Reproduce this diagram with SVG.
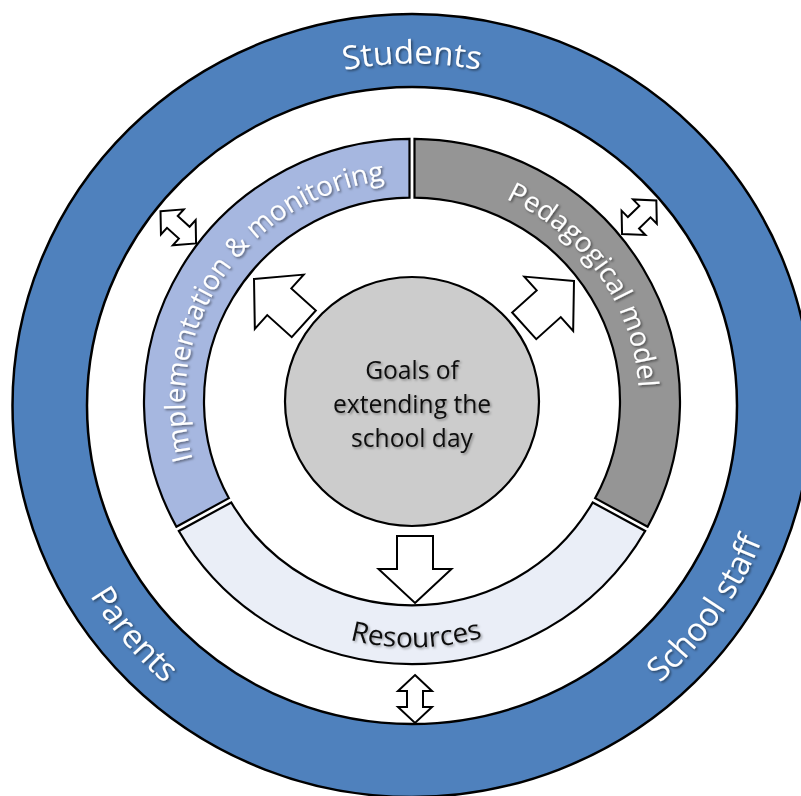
<svg xmlns="http://www.w3.org/2000/svg" width="801" height="796" viewBox="0 0 801 796">
<defs>
<style>
.ring{stroke:#000;stroke-width:2.5}
.seg{stroke:#000;stroke-width:2.2}
.arr{fill:#fff;stroke:#000;stroke-width:2;stroke-linejoin:miter}
.lbl{font-family:"Open Sans","Liberation Sans",sans-serif}
.w{fill:#fff;filter:url(#shd)}
.k{fill:#111;filter:url(#shl)}
.ctr{font-size:24.6px;text-anchor:middle}
</style>
<filter id="shd" x="-20%" y="-20%" width="140%" height="140%">
<feDropShadow dx="1.5" dy="1.5" stdDeviation="1.2" flood-color="#000" flood-opacity="0.5"/>
</filter>
<filter id="shl" x="-20%" y="-20%" width="140%" height="140%">
<feDropShadow dx="1.5" dy="1.5" stdDeviation="1.2" flood-color="#000" flood-opacity="0.35"/>
</filter>
<path id="p-students" d="M -343.70 -60.60 A 349 349 0 0 1 343.70 -60.60"/>
<path id="p-parents" d="M -288.03 -241.69 A 376 376 0 0 0 188 325.63"/>
<path id="p-staff" d="M -160.09 340.22 A 376 376 0 0 0 266.80 -264.94"/>
<path id="p-impl" d="M -157.69 163.29 A 227 227 0 0 1 92.33 -207.38"/>
<path id="p-ped" d="M -94.50 -206.40 A 227 227 0 0 1 159.39 161.63"/>
<path id="p-res" d="M -246.39 47.89 A 251 251 0 0 0 247.91 39.26"/>
<polygon id="block" points="0,0 -34,-36.5 -34,-18 -67,-18 -67,18 -34,18 -34,36.5"/>
<polygon id="dbl" points="-24,0 -8,-17 -8,-8 8,-8 8,-17 24,0 8,17 8,8 -8,8 -8,17"/>
</defs>

<g transform="translate(412,405.5) scale(1,0.98)">
  <g id="outer-ring">
    <path class="ring" fill="#4F81BD" fill-rule="evenodd" d="M -399.5 0 A 399.5 399.5 0 1 0 399.5 0 A 399.5 399.5 0 1 0 -399.5 0 Z M -325 0 A 325 325 0 1 0 325 0 A 325 325 0 1 0 -325 0 Z"/>
  </g>
  <g id="students">
    <text class="lbl w" font-size="33"><textPath href="#p-students" startOffset="50%" text-anchor="middle">Students</textPath></text>
  </g>
  <g id="parents">
    <text class="lbl w" font-size="33"><textPath href="#p-parents" startOffset="50%" text-anchor="middle">Parents</textPath></text>
  </g>
  <g id="school-staff">
    <text class="lbl w" font-size="33"><textPath href="#p-staff" startOffset="50%" text-anchor="middle">School staff</textPath></text>
  </g>
</g>

<g transform="translate(412,401.5) scale(1,0.98)">
  <g id="implementation">
    <path class="seg" fill="#A6B7E0" d="M -235.60 127.74 A 268 268 0 0 1 -2.50 -267.99 L -2.50 -207.98 A 208 208 0 0 0 -183.12 98.65 Z"/>
    <text class="lbl w" font-size="28"><textPath href="#p-impl" startOffset="50%" text-anchor="middle">Implementation &amp; monitoring</textPath></text>
  </g>
  <g id="pedagogical">
    <path class="seg" fill="#959595" d="M 2.50 -267.99 A 268 268 0 0 1 235.60 127.74 L 183.12 98.65 A 208 208 0 0 0 2.50 -207.98 Z"/>
    <text class="lbl w" font-size="28"><textPath href="#p-ped" startOffset="50%" text-anchor="middle">Pedagogical model</textPath></text>
  </g>
  <g id="resources">
    <path class="seg" fill="#EAEEF7" d="M 233.18 132.11 A 268 268 0 0 1 -233.18 132.11 L -180.70 103.02 A 208 208 0 0 0 180.70 103.02 Z"/>
    <text class="lbl k" font-size="28"><textPath href="#p-res" startOffset="50%" text-anchor="middle">Resources</textPath></text>
  </g>
  <g id="goals">
    <circle class="seg" fill="#CCCCCC" cx="0" cy="0" r="127"/>
  </g>
</g>

<g id="goals-label">
  <text class="lbl k ctr" x="412" y="379">Goals of</text>
  <text class="lbl k ctr" x="412" y="412.8">extending the</text>
  <text class="lbl k ctr" x="412" y="446.6">school day</text>
</g>

<g id="connectors">
  <use href="#block" class="arr" transform="translate(254,279) rotate(-138)"/>
  <use href="#block" class="arr" transform="translate(574,281) rotate(-42)"/>
  <use href="#block" class="arr" transform="translate(415,603) rotate(90)"/>
  <use href="#dbl" class="arr" transform="translate(178.3,227.3) rotate(42.2)"/>
  <use href="#dbl" class="arr" transform="translate(639.2,217.2) rotate(-44.4)"/>
  <use href="#dbl" class="arr" transform="translate(415,699) rotate(90)"/>
</g>
</svg>
